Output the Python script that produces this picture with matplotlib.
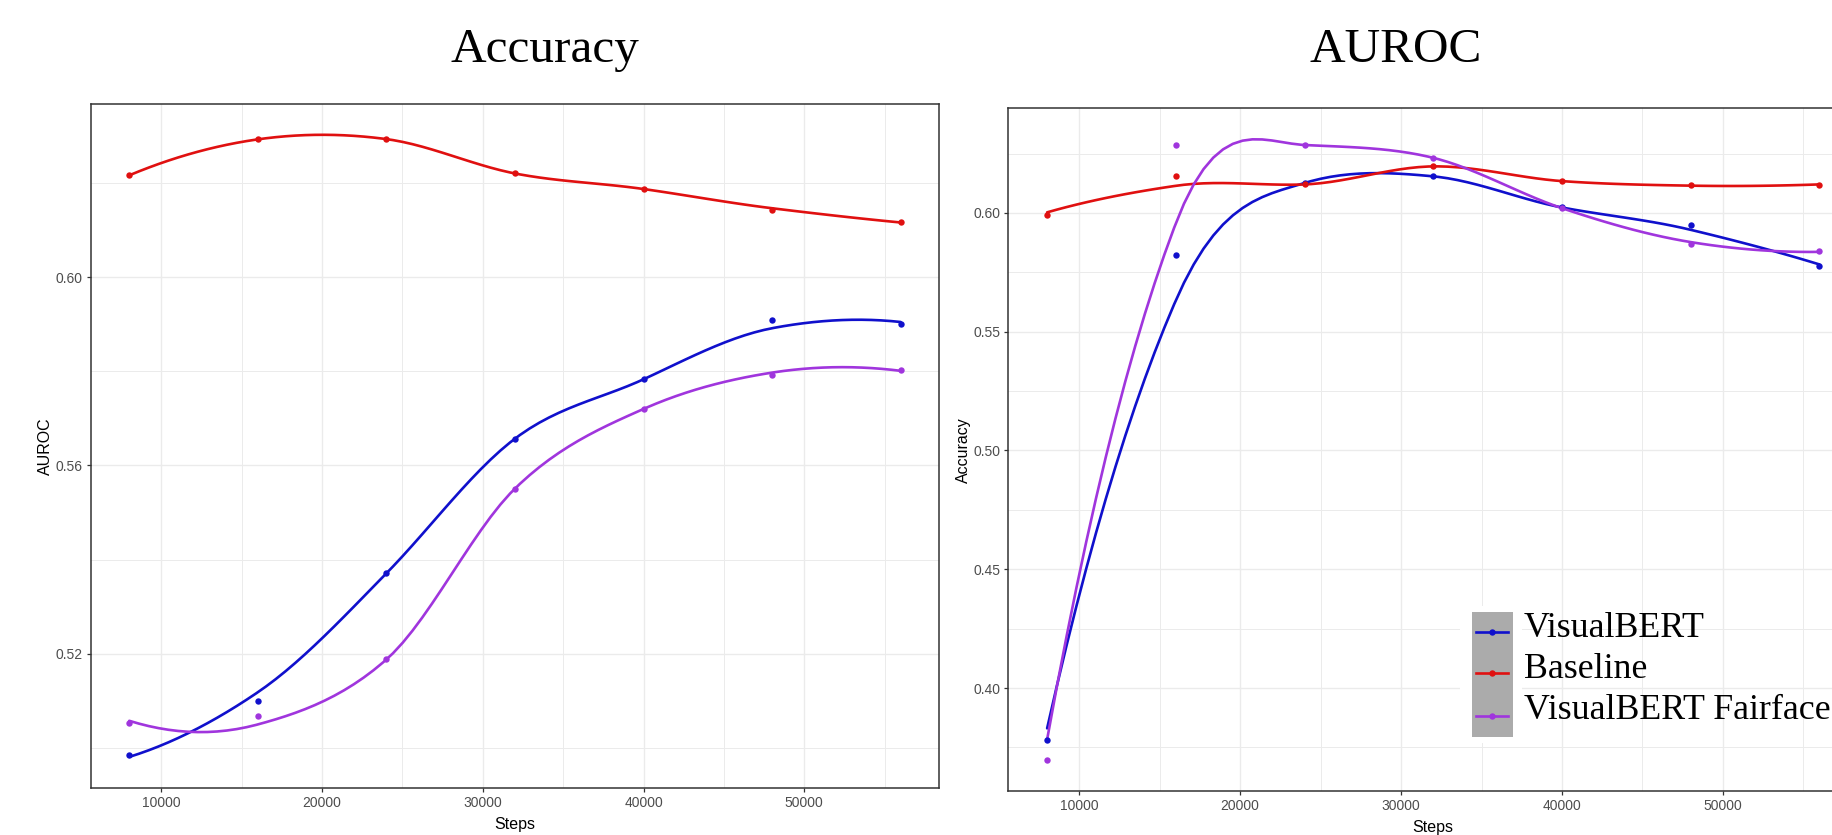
import numpy as np
import matplotlib
matplotlib.use('Agg')
import matplotlib.pyplot as plt
from matplotlib.lines import Line2D
from matplotlib.patches import Rectangle
from matplotlib.ticker import FixedLocator, FuncFormatter

# ---------------------------------------------------------------------------
# Data
# ---------------------------------------------------------------------------
steps = [8000, 16000, 24000, 32000, 40000, 48000, 56000]

series_names = ['VisualBERT', 'Baseline', 'VisualBERT Fairface']
series_colors = ['#1010CC', '#E01010', '#A035DD']

# left panel: title "Accuracy", y axis "AUROC"
left_visualbert = [0.4986, 0.5100, 0.5371, 0.5657, 0.5783, 0.5909, 0.5900]
left_baseline = [0.6216, 0.6293, 0.6293, 0.6220, 0.6187, 0.6142, 0.6117]
left_fairface = [0.5053, 0.5068, 0.5188, 0.5551, 0.5720, 0.5793, 0.5802]

# right panel: title "AUROC", y axis "Accuracy"
right_visualbert = [0.3780, 0.5822, 0.6126, 0.6154, 0.6023, 0.5949, 0.5778]
right_baseline = [0.5992, 0.6154, 0.6120, 0.6196, 0.6134, 0.6119, 0.6119]
right_fairface = [0.3696, 0.6286, 0.6286, 0.6232, 0.6020, 0.5870, 0.5838]

left_major = [0.52, 0.56, 0.60]
left_minor = [0.50, 0.54, 0.58, 0.62]
right_major = [0.40, 0.45, 0.50, 0.55, 0.60]
right_minor = [0.375, 0.425, 0.475, 0.525, 0.575, 0.625]
x_major = [10000, 20000, 30000, 40000, 50000]
x_minor = [15000, 25000, 35000, 45000, 55000]

W, H = 1833, 835


# ---------------------------------------------------------------------------
# loess like R's default (degree 2, span 0.75, kd-tree + cubic interpolation)
# ---------------------------------------------------------------------------
def local_fit(x, y, x0, q):
    d = np.abs(x - x0)
    h = np.sort(d)[q - 1]
    w = np.clip(1 - (d / h) ** 3, 0, None) ** 3
    u = (x - x0) / h
    A = np.vstack([np.ones_like(u), u, u ** 2]).T
    sw = np.sqrt(w)
    coef, *_ = np.linalg.lstsq(A * sw[:, None], y * sw, rcond=None)
    return coef[0], coef[1] / h


def kd_vertices(x, fc):
    xs = np.sort(x)
    mu = 0.005 * (xs[-1] - xs[0])
    lo_b, hi_b = xs[0] - mu, xs[-1] + mu
    verts = {lo_b, hi_b}

    def split(lo, hi, a, b):
        if hi - lo + 1 <= fc:
            return
        m = (lo + hi) // 2
        t = xs[m]
        if t == a or t == b:
            return
        verts.add(t)
        split(lo, m, a, t)
        split(m + 1, hi, t, b)

    split(0, len(xs) - 1, lo_b, hi_b)
    return np.array(sorted(verts))


def loess(x, y, span=0.75, n_out=80):
    x = np.asarray(x, float)
    y = np.asarray(y, float)
    n = len(x)
    q = int(np.floor(n * span))
    fc = int(np.floor(n * span * 0.2))
    verts = kd_vertices(x, max(fc, 1))
    vals = np.array([local_fit(x, y, v, q) for v in verts])
    xs = np.linspace(x.min(), x.max(), n_out)
    ys = np.empty_like(xs)
    for i, xv in enumerate(xs):
        j = np.clip(np.searchsorted(verts, xv) - 1, 0, len(verts) - 2)
        x0, x1 = verts[j], verts[j + 1]
        (y0, s0), (y1, s1) = vals[j], vals[j + 1]
        hl = x1 - x0
        t = (xv - x0) / hl
        h00 = 2 * t ** 3 - 3 * t ** 2 + 1
        h10 = t ** 3 - 2 * t ** 2 + t
        h01 = -2 * t ** 3 + 3 * t ** 2
        h11 = t ** 3 - t ** 2
        ys[i] = h00 * y0 + h10 * hl * s0 + h01 * y1 + h11 * hl * s1
    return xs, ys


def px_box(x0, y0, x1, y1):
    return [x0 / W, 1 - y1 / H, (x1 - x0) / W, (y1 - y0) / H]


def draw_panel(ax, values, major, minor, ylabel):
    all_y = []
    for vals, col in zip(values, series_colors):
        xs, ys = loess(steps, vals)
        ax.plot(xs, ys, color=col, lw=1.9, zorder=3, solid_capstyle='round')
        ax.plot(steps, vals, 'o', color=col, ms=4.6, mec='none', zorder=4)
        all_y.extend(ys)
        all_y.extend(vals)

    # ggplot default 5% expansion
    xr = max(steps) - min(steps)
    ax.set_xlim(min(steps) - 0.05 * xr, max(steps) + 0.05 * xr)
    yr = max(all_y) - min(all_y)
    ax.set_ylim(min(all_y) - 0.05 * yr, max(all_y) + 0.05 * yr)

    ax.xaxis.set_major_locator(FixedLocator(x_major))
    ax.xaxis.set_minor_locator(FixedLocator(x_minor))
    ax.yaxis.set_major_locator(FixedLocator(major))
    ax.yaxis.set_minor_locator(FixedLocator(minor))
    ax.yaxis.set_major_formatter(FuncFormatter(lambda v, p: f'{v:.2f}'))
    ax.xaxis.set_major_formatter(FuncFormatter(lambda v, p: f'{int(v)}'))

    ax.grid(True, which='major', color='#EBEBEB', lw=1.0, zorder=0)
    ax.grid(True, which='minor', color='#EBEBEB', lw=0.7, zorder=0)
    ax.set_axisbelow(True)
    ax.tick_params(which='major', direction='out', length=2.75, width=0.9,
                   color='#333333', labelcolor='#4D4D4D', labelsize=10, pad=3)
    ax.tick_params(which='minor', length=0)
    for sp in ax.spines.values():
        sp.set_color('#333333')
        sp.set_linewidth(1.1)

    ax.set_xlabel('Steps', fontsize=11.5, color='black', labelpad=5)
    ax.set_ylabel(ylabel, fontsize=11.5, color='black', labelpad=2)


plt.rcParams['font.family'] = ['Liberation Sans', 'DejaVu Sans']

fig = plt.figure(figsize=(W / 100, H / 100), dpi=100, facecolor='white')

ax_left = fig.add_axes(px_box(90.7, 103.7, 939.3, 788))
draw_panel(ax_left, [left_visualbert, left_baseline, left_fairface],
           left_major, left_minor, 'AUROC')

ax_right = fig.add_axes(px_box(1008.5, 108.3, 1858, 791.3))
draw_panel(ax_right, [right_visualbert, right_baseline, right_fairface],
           right_major, right_minor, 'Accuracy')

# titles (slide text boxes)
fig.text(545 / W, 1 - 62 / H, 'Accuracy', ha='center', va='baseline',
         fontsize=35.5, family='Liberation Serif', color='black')
fig.text(1396 / W, 1 - 62 / H, 'AUROC', ha='center', va='baseline',
         fontsize=35.5, family='Liberation Serif', color='black')

# legend drawn by hand: grey key column with serif labels
fig.patches.append(Rectangle((1460 / W, 1 - 743 / H), 62 / W, 137 / H,
                             transform=fig.transFigure, facecolor='white',
                             edgecolor='none', zorder=5))
fig.patches.append(Rectangle((1471.7 / W, 1 - 736.7 / H), 41.6 / W, 125 / H,
                             transform=fig.transFigure, facecolor='#ABABAB',
                             edgecolor='none', zorder=6))
key_y = [631.7, 673.3, 715.7]
base_y = [636.7, 677.7, 719.3]
for name, col, ky, by in zip(series_names, series_colors, key_y, base_y):
    fig.lines.append(Line2D([1476 / W, 1507.7 / W], [1 - ky / H, 1 - ky / H],
                            transform=fig.transFigure, color=col, lw=1.9,
                            zorder=7))
    fig.lines.append(Line2D([1491.8 / W], [1 - ky / H], marker='o', ms=4.6,
                            mec='none', color=col, transform=fig.transFigure,
                            zorder=8))
    fig.text(1524 / W, 1 - by / H, name, ha='left', va='baseline',
             fontsize=25.8, family='Liberation Serif', color='black', zorder=8)

fig.savefig('out.png', dpi=100, facecolor='white')
